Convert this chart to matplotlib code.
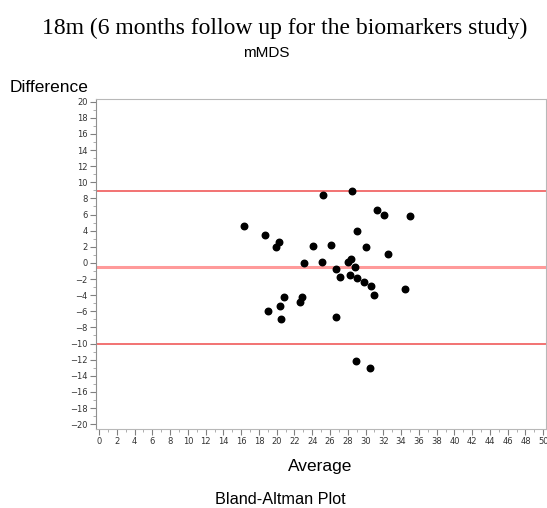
import matplotlib.pyplot as plt
from matplotlib.ticker import MultipleLocator

# Bland-Altman data
average = [16.36, 18.73, 20.31, 19.97, 23.05, 19.03, 20.38, 20.87, 20.50, 22.90,
           22.60, 28.49, 25.26, 31.31, 32.06, 34.95, 29.05, 24.10, 26.13, 30.03,
           32.55, 25.08, 28.34, 28.08, 28.79, 26.65, 27.18, 28.23, 29.05, 29.84,
           30.63, 31.00, 34.42, 26.69, 28.94, 30.52]
difference = [4.59, 3.43, 2.56, 1.94, 0.00, -5.99, -5.33, -4.26, -6.98, -4.26,
              -4.83, 8.97, 8.47, 6.53, 5.95, 5.87, 4.01, 2.15, 2.27, 1.94,
              1.07, 0.12, 0.50, 0.12, -0.45, -0.74, -1.74, -1.53, -1.90, -2.31,
              -2.81, -3.97, -3.18, -6.65, -12.11, -13.02]
mean_diff = -0.54
upper_loa = 8.97
lower_loa = -10.05

fig = plt.figure(figsize=(5.47, 5.08), dpi=100)
ax = fig.add_axes([0.175, 0.1555, 0.823, 0.650])

ax.axhline(upper_loa, color='#f05a5a', linewidth=1.2, zorder=1)
ax.axhline(lower_loa, color='#f05a5a', linewidth=1.2, zorder=1)
ax.axhline(mean_diff, color='#ff9a9a', linewidth=2.2, zorder=1)
ax.scatter(average, difference, s=22, color='black', zorder=3)

ax.set_xlim(-0.37, 50.3)
ax.set_ylim(-20.6, 20.35)
ax.xaxis.set_major_locator(MultipleLocator(2))
ax.xaxis.set_minor_locator(MultipleLocator(1))
ax.yaxis.set_major_locator(MultipleLocator(2))
ax.yaxis.set_minor_locator(MultipleLocator(1))
ax.tick_params(which='major', length=4, width=0.8, color='#808080',
               labelsize=6, labelcolor='#333333', pad=2)
ax.tick_params(which='minor', length=2, width=0.6, color='#a0a0a0')

for side in ['top', 'right', 'bottom']:
    ax.spines[side].set_color('#b8b8b8')
ax.spines['left'].set_color('#909090')

fig.text(0.52, 0.945, "18m (6 months follow up for the biomarkers study)",
         ha='center', va='center', fontsize=17, family='Liberation Serif')
fig.text(0.487, 0.895, "mMDS", ha='center', va='center', fontsize=11,
         family='Liberation Sans')
fig.text(0.018, 0.827, "Difference", ha='left', va='center', fontsize=12.5,
         family='Liberation Sans')
fig.text(0.585, 0.081, "Average", ha='center', va='center', fontsize=12.5,
         family='Liberation Sans')
fig.text(0.512, 0.016, "Bland-Altman Plot", ha='center', va='center', fontsize=11.7,
         family='Liberation Sans')

plt.savefig("out.png", dpi=100)
